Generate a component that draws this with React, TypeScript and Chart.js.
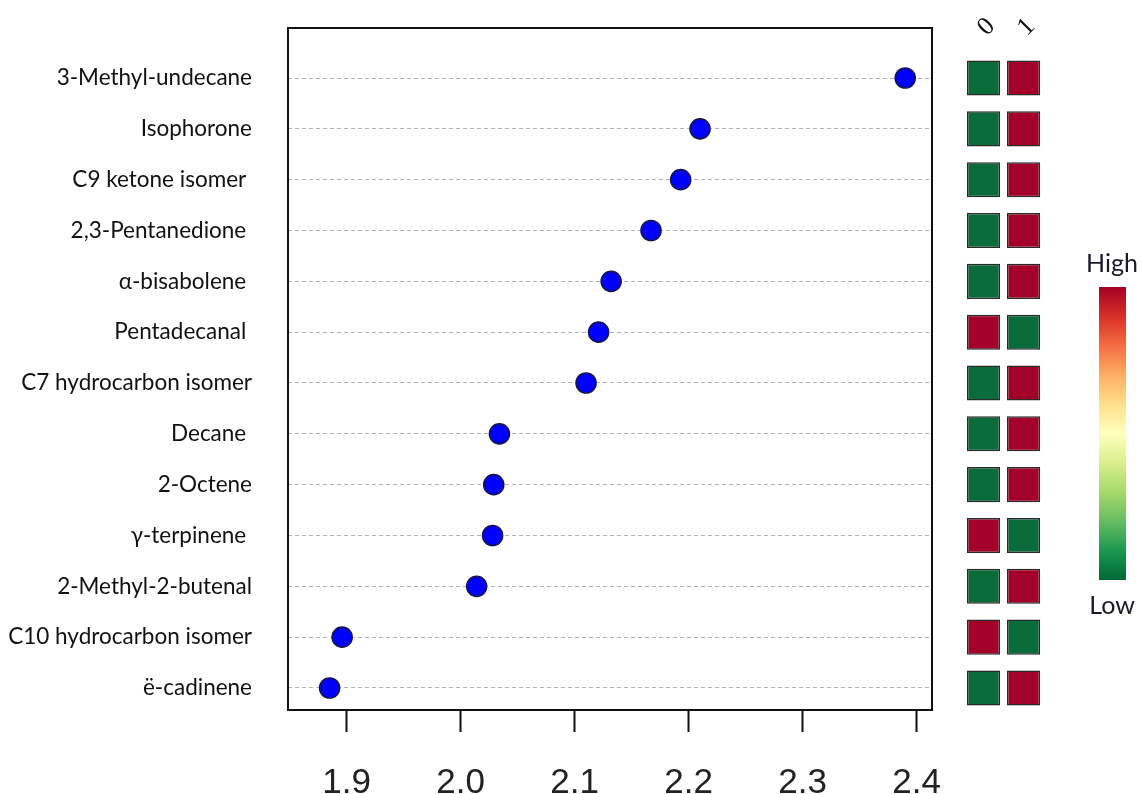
import React, { useEffect, useRef } from "react";
import { Chart, registerables } from "chart.js";

Chart.register(...registerables);

const compounds = [
  "3-Methyl-undecane",
  "Isophorone",
  "C9 ketone isomer ",
  "2,3-Pentanedione ",
  "α-bisabolene ",
  "Pentadecanal ",
  "C7 hydrocarbon isomer",
  "Decane ",
  "2-Octene",
  "γ-terpinene ",
  "2-Methyl-2-butenal",
  "C10 hydrocarbon isomer",
  "ë-cadinene",
];

const vipScores = [2.39, 2.21, 2.193, 2.167, 2.132, 2.121, 2.11, 2.034, 2.029, 2.028, 2.014, 1.896, 1.885];

// heat levels: 1 = high, 0 = low
const group0Levels = [0, 0, 0, 0, 0, 1, 0, 0, 0, 1, 0, 1, 0];
const group1Levels = [1, 1, 1, 1, 1, 0, 1, 1, 1, 0, 1, 0, 1];
const groupLabels = ["0", "1"];

const xTicks = [1.9, 2.0, 2.1, 2.2, 2.3, 2.4];

const HIGH = "#A3002A";
const LOW = "#0A6B3B";

const W = 1142;
const H = 794;

export default function App() {
  const mainRef = useRef<HTMLCanvasElement>(null);
  const heatRef = useRef<HTMLCanvasElement>(null);

  useEffect(() => {
    const boxPlugin = {
      id: "box",
      beforeDatasetsDraw(chart: any) {
        const { ctx, chartArea } = chart;
        ctx.save();
        ctx.strokeStyle = "#111";
        ctx.lineWidth = 2;
        ctx.strokeRect(chartArea.left, chartArea.top, chartArea.right - chartArea.left, chartArea.bottom - chartArea.top);
        ctx.restore();
      },
    };

    const main = new Chart(mainRef.current!, {
      type: "scatter",
      data: {
        datasets: [
          {
            data: compounds.map((_, i) => ({ x: vipScores[i], y: i })),
            pointRadius: 10,
            pointHoverRadius: 10,
            backgroundColor: "#0000FF",
            borderColor: "#141450",
            borderWidth: 1.6,
          },
        ],
      },
      options: {
        animation: false,
        responsive: false,
        devicePixelRatio: 1,
        layout: { padding: { left: 0, right: W - 932, top: 28, bottom: 0 } },
        plugins: { legend: { display: false }, tooltip: { enabled: false } },
        scales: {
          x: {
            type: "linear",
            min: 1.8485,
            max: 2.4135,
            afterBuildTicks: (s: any) => {
              s.ticks = xTicks.map((v) => ({ value: v }));
            },
            afterFit: (s: any) => {
              s.height = H - 710;
              s.paddingLeft = 0;
              s.paddingRight = 0;
            },
            border: { display: false },
            grid: {
              drawOnChartArea: false,
              drawTicks: true,
              tickLength: 22,
              tickColor: "#111",
              tickWidth: 2,
            },
            ticks: {
              callback: (v: any) => Number(v).toFixed(1),
              font: { family: "'Liberation Sans', Arial, sans-serif", size: 35 },
              color: "#222",
              padding: 30,
              maxRotation: 0,
              autoSkip: false,
            },
          },
          y: {
            type: "linear",
            reverse: true,
            min: -0.9837,
            max: 12.433,
            afterBuildTicks: (s: any) => {
              s.ticks = compounds.map((_, i) => ({ value: i }));
            },
            afterFit: (s: any) => {
              s.width = 288;
              s.paddingTop = 0;
              s.paddingBottom = 0;
            },
            border: { display: false, dash: [4, 3] },
            grid: {
              drawTicks: false,
              color: "#b4b4b4",
              lineWidth: 1,
            },
            ticks: {
              callback: (v: any) => compounds[v as number] ?? "",
              font: { family: "Lato, 'Open Sans', sans-serif", size: 22.5 },
              color: "#111",
              padding: 36,
              autoSkip: false,
            },
          },
        },
      },
      plugins: [boxPlugin],
    } as any);

    const cellW = 0.904;
    const colCenters = [cellW / 2, 2 - cellW / 2];
    const colLabelPlugin = {
      id: "colLabels",
      afterDraw(chart: any) {
        const { ctx } = chart;
        const xs = chart.scales.x;
        ctx.save();
        ctx.font = "26px 'Liberation Serif', 'DejaVu Serif', serif";
        ctx.fillStyle = "#111";
        ctx.textAlign = "center";
        ctx.textBaseline = "middle";
        groupLabels.forEach((lab, i) => {
          const px = xs.getPixelForValue(colCenters[i]) + 3;
          ctx.save();
          ctx.translate(px, 27);
          ctx.rotate(-Math.PI / 4);
          ctx.fillText(lab, 0, 0);
          ctx.restore();
        });
        ctx.restore();
      },
    };

    const heat = new Chart(heatRef.current!, {
      type: "bar",
      data: {
        labels: compounds,
        datasets: [group0Levels, group1Levels].map((levels, c) => ({
          data: levels.map(() => [c * (2 - cellW), c * (2 - cellW) + cellW]),
          backgroundColor: levels.map((v) => (v ? HIGH : LOW)),
          borderColor: "#2a2a2a",
          borderWidth: 1.5,
          borderSkipped: false,
          grouped: false,
          barPercentage: 0.69,
          categoryPercentage: 1,
        })),
      },
      options: {
        animation: false,
        responsive: false,
        devicePixelRatio: 1,
        indexAxis: "y",
        layout: { padding: { left: 967, right: W - 1040, top: 52.6, bottom: H - 713.4 } },
        plugins: { legend: { display: false }, tooltip: { enabled: false } },
        scales: {
          x: { type: "linear", min: 0, max: 2, display: false },
          y: { type: "category", display: false, offset: true },
        },
      },
      plugins: [colLabelPlugin],
    } as any);

    return () => {
      main.destroy();
      heat.destroy();
    };
  }, []);

  const legendFont = "Lato, 'Open Sans', sans-serif";
  return (
    <div style={{ position: "absolute", left: 0, top: 0, width: W, height: H, background: "#fff", overflow: "hidden" }}>
      <canvas ref={mainRef} width={W} height={H} style={{ position: "absolute", left: 0, top: 0 }} />
      <canvas ref={heatRef} width={W} height={H} style={{ position: "absolute", left: 0, top: 0 }} />
      <div
        style={{
          position: "absolute",
          left: 1099,
          top: 287,
          width: 27,
          height: 293,
          background:
            "linear-gradient(to bottom, #A50026 0%, #D73027 10%, #F46D43 20%, #FDAE61 30%, #FEE08B 40%, #FFFFBF 50%, #D9EF8B 60%, #A6D96A 70%, #66BD63 80%, #1A9850 90%, #006837 100%)",
        }}
      />
      <div
        style={{
          position: "absolute",
          left: 1062,
          width: 100,
          top: 247,
          textAlign: "center",
          fontFamily: legendFont,
          fontSize: 25,
          lineHeight: "30px",
          color: "#1a1a2a",
        }}
      >
        High
      </div>
      <div
        style={{
          position: "absolute",
          left: 1062,
          width: 100,
          top: 589,
          textAlign: "center",
          fontFamily: legendFont,
          fontSize: 25,
          lineHeight: "30px",
          color: "#1a1a2a",
        }}
      >
        Low
      </div>
    </div>
  );
}
